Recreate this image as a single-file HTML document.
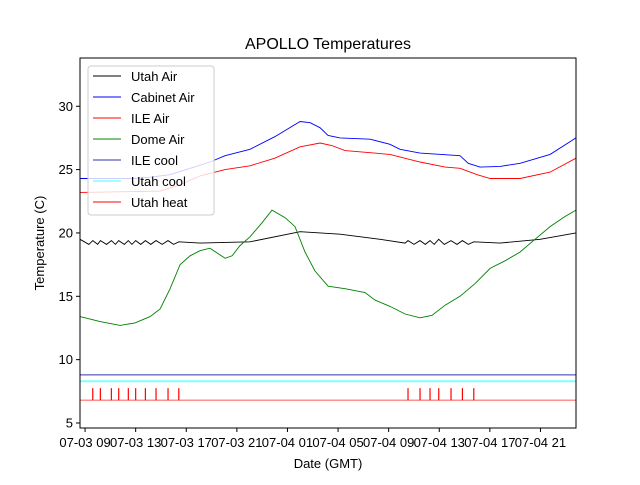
<!DOCTYPE html>
<html><head><meta charset="utf-8"><style>
body{margin:0;background:#fff;}
svg{font-family:"Liberation Sans","DejaVu Sans",sans-serif;}
</style></head><body>
<svg id="c" width="640" height="480" xmlns="http://www.w3.org/2000/svg">
<rect width="640" height="480" fill="#fff"/>
<text x="328" y="49" font-size="16" text-anchor="middle">APOLLO Temperatures</text>
<g id="plot"></g>
<rect x="80" y="58" width="496" height="370" fill="none" stroke="#000" stroke-width="1"/>
<text x="328" y="468" font-size="13" text-anchor="middle">Date (GMT)</text>
<text transform="translate(44,243) rotate(-90)" font-size="13" text-anchor="middle">Temperature (C)</text>
<g id="legend">
<rect x="88" y="66" width="126" height="149" rx="3" fill="#fff" fill-opacity="0.8" stroke="#ccc"/>
</g>
</svg>
<script>
const cabinetH=[8.6,10.19,11.77,12.95,14.14,15.72,17.3,18.88,20.07,22.04,24.0,26.0,26.8,27.58,28.21,29.16,31.53,33.11,33.9,35.48,38.64,39.3,40.22,41.8,43.39,45.76,47.81];
const cabinetV=[24.3,24.3,24.3,24.3,24.4,24.6,25.1,25.6,26.1,26.6,27.6,28.8,28.7,28.3,27.7,27.5,27.4,27.0,26.6,26.3,26.1,25.5,25.2,25.25,25.5,26.2,27.5];
const ileH=[8.6,11.77,14.93,16.51,18.09,20.07,22.04,24.0,26.0,27.58,28.5,29.55,33.11,35.48,37.46,38.64,40.0,41.02,43.39,45.76,47.81];
const ileV=[23.2,23.25,23.3,23.8,24.5,25.0,25.3,25.9,26.8,27.1,26.9,26.5,26.2,25.6,25.2,25.1,24.6,24.3,24.3,24.8,25.9];
const utahH=[8.6,9.3,9.61,10.0,10.21,10.7,11.08,11.4,11.66,12.1,12.42,12.7,13.0,13.4,13.77,14.2,14.61,15.1,15.56,16.0,16.41,18.09,22.04,26.0,29.16,32.32,34.3,34.53,35.0,35.48,35.9,36.27,36.6,36.96,37.4,37.93,38.4,38.83,39.3,39.73,41.8,44.97,47.81];
const utahV=[19.5,19.1,19.4,19.1,19.4,19.1,19.4,19.1,19.4,19.1,19.4,19.1,19.4,19.1,19.4,19.1,19.4,19.1,19.4,19.1,19.3,19.2,19.3,20.1,19.9,19.5,19.2,19.4,19.1,19.4,19.1,19.4,19.1,19.5,19.1,19.4,19.1,19.4,19.1,19.3,19.2,19.5,20.0];
const domeH=[8.6,10.19,11.77,12.95,14.14,14.93,15.72,16.51,17.3,18.09,18.88,20.07,20.62,21.25,22.04,22.99,23.78,24.81,25.6,26.39,27.18,28.21,29.55,31.13,31.92,33.11,34.3,35.48,36.43,37.46,38.64,39.83,41.02,42.2,43.39,44.57,45.76,46.94,47.81];
const domeV=[13.4,13.0,12.7,12.9,13.4,14.0,15.6,17.5,18.2,18.6,18.8,18.0,18.2,19.0,19.7,20.8,21.8,21.2,20.5,18.5,17.0,15.8,15.6,15.3,14.7,14.2,13.6,13.3,13.5,14.3,15.0,16.0,17.2,17.8,18.5,19.5,20.5,21.3,21.8];
const ileCool=8.8, utahCool=8.3, utahHeat=6.8, heatTop=7.75;
const heatEvents=[9.61,10.21,11.08,11.66,12.42,13.0,13.77,14.61,15.56,16.41,34.53,35.48,36.27,36.96,37.93,38.83,39.73];
const yTicks=[5,10,15,20,25,30];
const xTickH=[9,13,17,21,25,29,33,37,41,45];
const xTickLabels=["07-03 09","07-03 13","07-03 17","07-03 21","07-04 01","07-04 05","07-04 09","07-04 13","07-04 17","07-04 21"];
const H0=8.6,H1=47.81,X0=80,X1=576;
const xs=h=>X0+(h-H0)/(H1-H0)*(X1-X0);
const ys=v=>423-(v-5)*12.67;
const NS="http://www.w3.org/2000/svg";
const plot=document.getElementById('plot');
function mk(tag,attrs,parent){const e=document.createElementNS(NS,tag);for(const k in attrs)e.setAttribute(k,attrs[k]);(parent||plot).appendChild(e);return e;}
function line(H,V,color,name){
  const p=mk('polyline',{points:H.map((h,i)=>xs(h).toFixed(1)+','+ys(V[i]).toFixed(1)).join(' '),fill:'none',stroke:color,'stroke-width':0.9});
  
  
}
function hline(v,color,w,name){
  const l=mk('line',{x1:X0,x2:X1,y1:ys(v),y2:ys(v),stroke:color,'stroke-width':w});
  
  
}
hline(ileCool,'#3333aa',1,'ile-cool-line');
hline(utahCool,'#80ffff',2,'utah-cool-line');
hline(utahHeat,'#ff9090',1.5,'utah-heat-line');
heatEvents.forEach(h=>{
  const t=mk('line',{x1:xs(h),x2:xs(h),y1:ys(heatTop),y2:ys(utahHeat),stroke:'#ff0000','stroke-width':1.2});
  
  
});
line(cabinetH,cabinetV,'#0000ff','cabinet-air-line');
line(ileH,ileV,'#ff0000','ile-air-line');
line(utahH,utahV,'#000000','utah-air-line');
line(domeH,domeV,'#008000','dome-air-line');
yTicks.forEach(v=>{
  const t=mk('line',{x1:X0-4,x2:X0,y1:ys(v),y2:ys(v),stroke:'#000'});
  
  
  const l=mk('text',{x:X0-7,y:ys(v)+4.5,'font-size':13,'text-anchor':'end'});
  l.textContent=v;
  
  
});
xTickH.forEach((h,i)=>{
  const t=mk('line',{x1:xs(h),x2:xs(h),y1:428,y2:432,stroke:'#000'});
  
  
  const l=mk('text',{x:xs(h),y:447,'font-size':13,'text-anchor':'middle'});
  l.textContent=xTickLabels[i];
  
  
});
const legNames=["Utah Air","Cabinet Air","ILE Air","Dome Air","ILE cool","Utah cool","Utah heat"];
const legColors=["#000000","#0000ff","#ff0000","#008000","#3333aa","#40ffff","#ff0000"];
const leg=document.getElementById('legend');
legNames.forEach((n,i)=>{
  const y=76+i*21;
  const l=mk('line',{x1:93,x2:121,y1:y,y2:y,stroke:legColors[i],'stroke-width':1},leg);
  
  
  const t=mk('text',{x:131,y:y+5,'font-size':13},leg);
  t.textContent=n;
  
  
});
</script>
</body></html>
